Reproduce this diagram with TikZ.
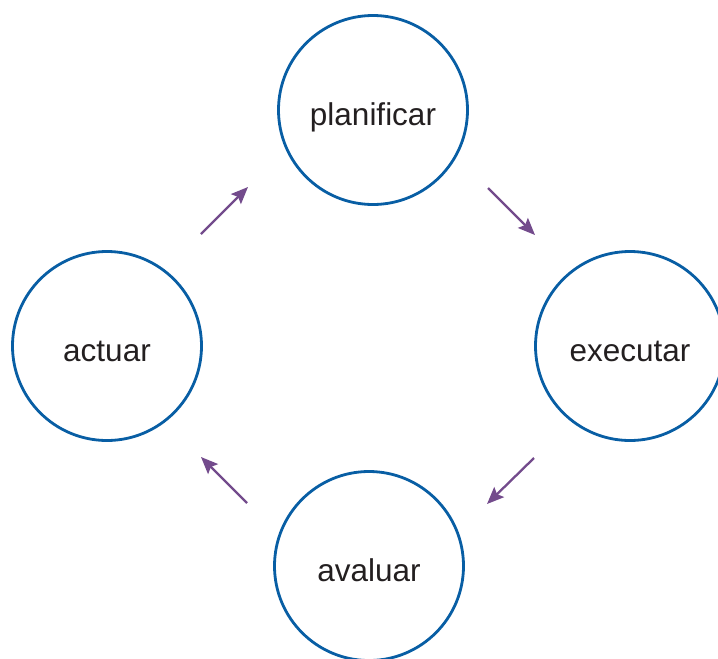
\documentclass[tikz,border=0pt]{standalone}
\usepackage{fontspec}
\setmainfont{Liberation Sans}
\usetikzlibrary{arrows.meta}
\definecolor{ringblue}{RGB}{8,94,164}
\definecolor{arrowpurple}{RGB}{115,75,140}
\definecolor{textgray}{RGB}{35,31,32}
\begin{document}
\begin{tikzpicture}[x=1pt,y=-1pt,
  stage/.style={circle,draw=ringblue,line width=2.8pt,minimum size=189pt,inner sep=0pt,
    text height=30pt,text depth=0pt,
    text=textgray,font=\fontsize{31.5}{38}\selectfont},
  flow/.style={draw=arrowpurple,line width=2.3pt,-{Stealth[length=17pt,width=14pt,inset=3pt]}}]
\useasboundingbox (0,0) rectangle (718,659);
\clip (0,0) rectangle (718,659);
\node[stage] (plan) at (373,110) {planificar};
\node[stage] (exec) at (630,346) {executar};
\node[stage] (aval) at (369,566) {avaluar};
\node[stage] (act) at (107,346) {actuar};
\coordinate (a1) at (201,234); \coordinate (b1) at (248,187);
\coordinate (a2) at (488,188); \coordinate (b2) at (535,235);
\coordinate (a3) at (534,458); \coordinate (b3) at (487,504);
\coordinate (a4) at (247,503); \coordinate (b4) at (201,457);
\draw[flow] (a1) -- (b1);
\draw[flow] (a2) -- (b2);
\draw[flow] (a3) -- (b3);
\draw[flow] (a4) -- (b4);
\end{tikzpicture}
\end{document}
